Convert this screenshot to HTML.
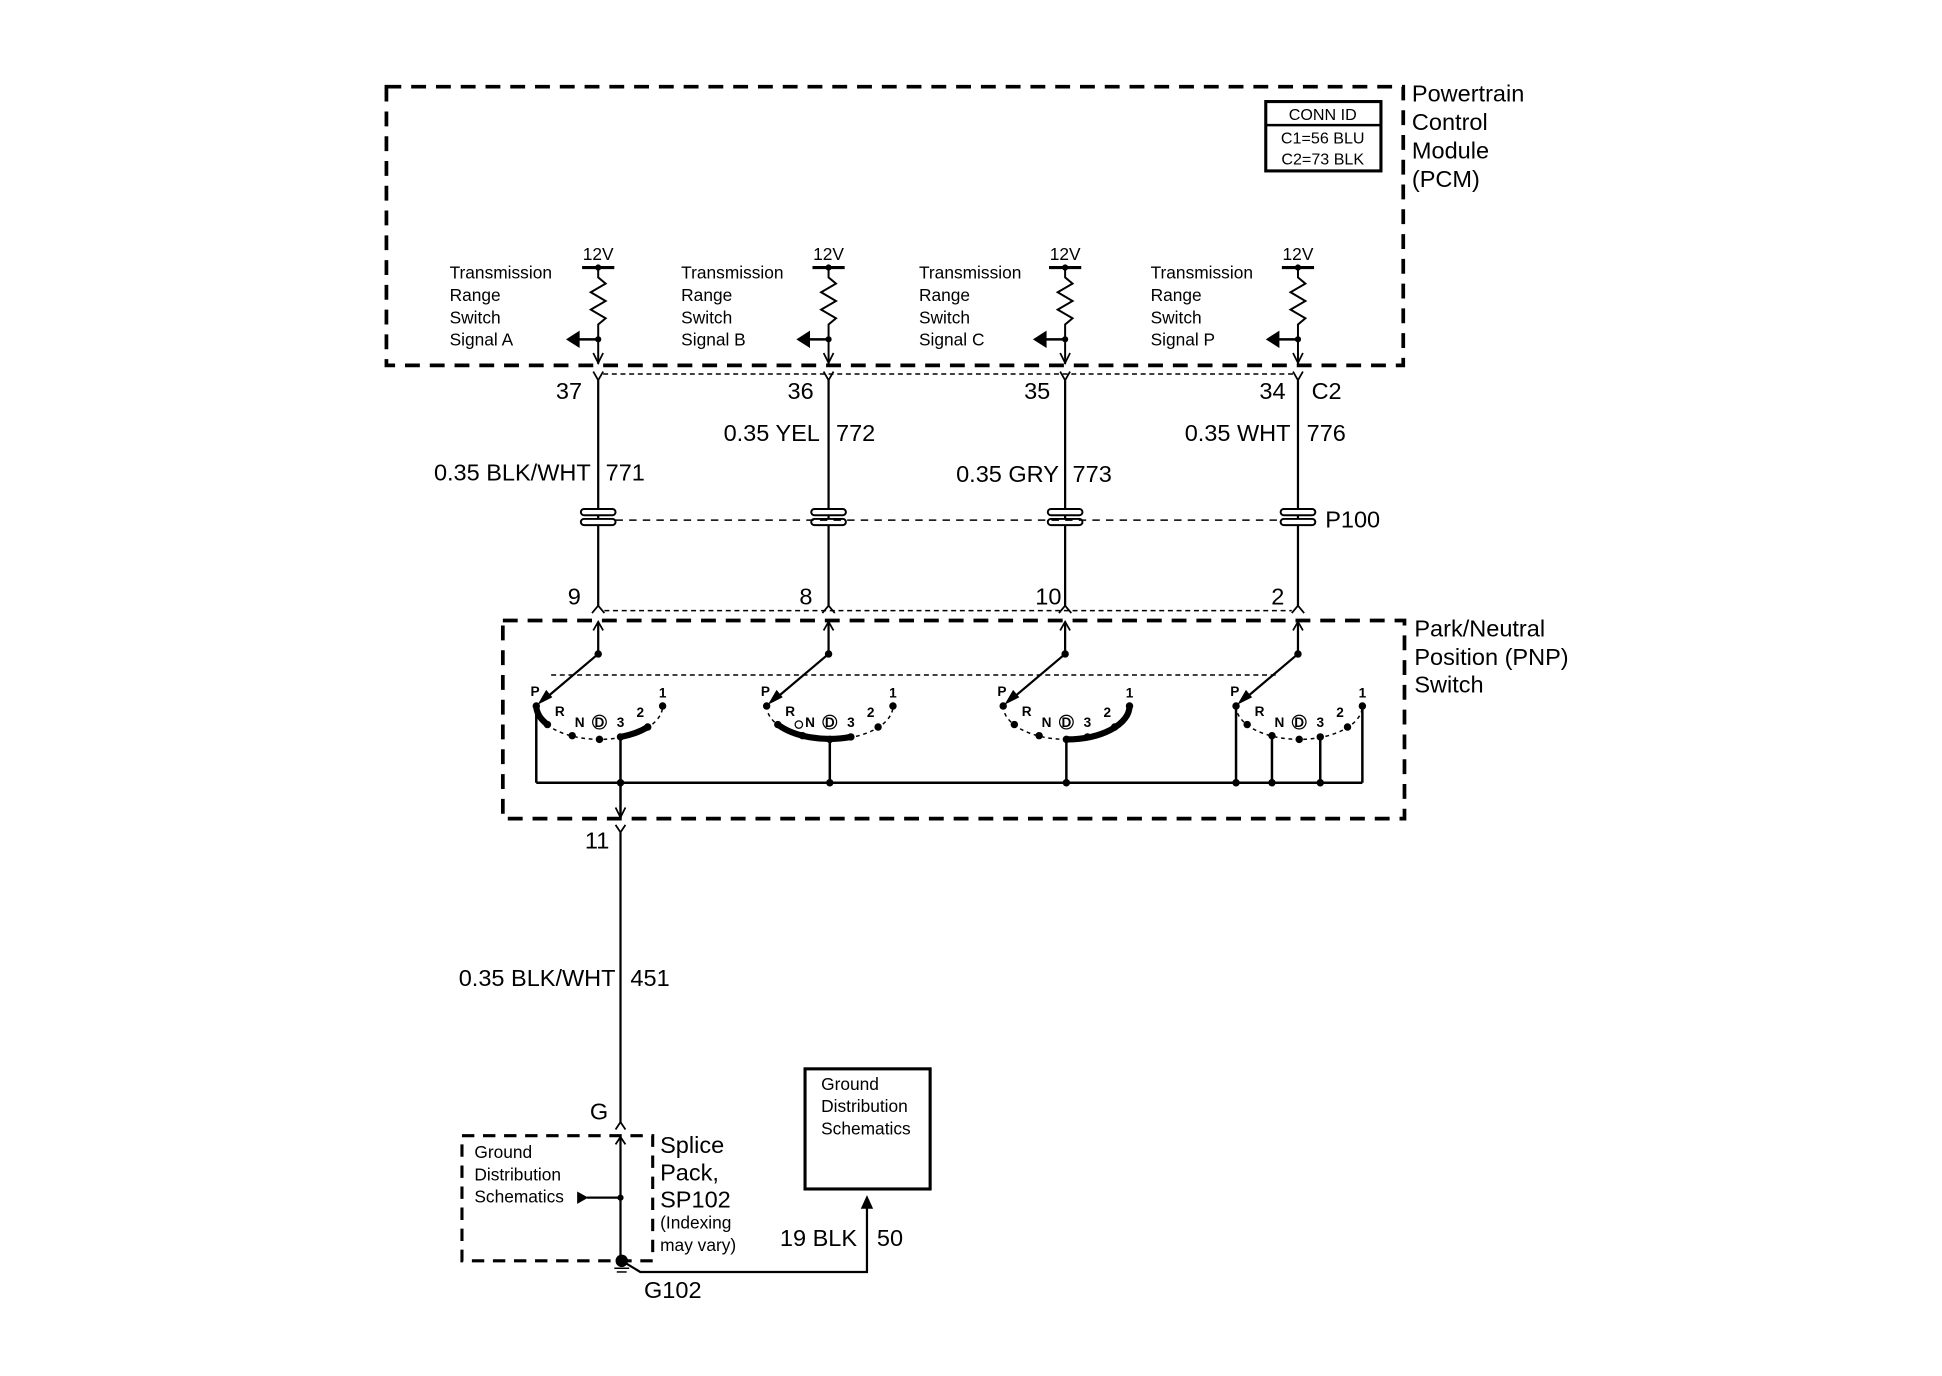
<!DOCTYPE html>
<html><head><meta charset="utf-8"><style>
html,body{margin:0;padding:0;background:#fff;}
svg{display:block;}
text{font-family:"Liberation Sans",sans-serif;fill:#000;}
.s{font-size:14px;}
.m{font-size:19px;}
.t{font-size:11px;font-weight:bold;}
</style></head><body>
<svg width="1942" height="1376" viewBox="0 0 1568 1111" xmlns="http://www.w3.org/2000/svg">
<defs>
<g id="res">
  <text x="483" y="210" class="s" text-anchor="middle">12V</text>
  <line x1="470" y1="216" x2="496" y2="216" stroke="#000" stroke-width="2.5"/>
  <circle cx="483" cy="216" r="2.5"/>
  <polyline points="483,216 483,224 489,229 477,236 489,243 477,250 489,257 483,262 483,294" fill="none" stroke="#000" stroke-width="1.6"/>
  <polyline points="479,285 483,293 487,285" fill="none" stroke="#000" stroke-width="1.4"/>
  <circle cx="483" cy="274" r="2.5"/>
  <line x1="465" y1="274" x2="483" y2="274" stroke="#000" stroke-width="2"/>
  <polygon points="457,274 468,267 468,281"/>
  <polyline points="479,300 483,307 487,300" fill="none" stroke="#000" stroke-width="1.4"/>
  <line x1="483" y1="307" x2="483" y2="489" stroke="#000" stroke-width="1.8"/>
  <rect x="469" y="411" width="28" height="5" rx="2.5" fill="#fff" stroke="#000" stroke-width="1.6"/>
  <rect x="469" y="419" width="28" height="5" rx="2.5" fill="#fff" stroke="#000" stroke-width="1.6"/>
  <polyline points="478,495 483,489 488,495" fill="none" stroke="#000" stroke-width="1.4"/>
  <line x1="483" y1="502" x2="483" y2="528" stroke="#000" stroke-width="1.8"/>
  <polyline points="479,509 483,502 487,509" fill="none" stroke="#000" stroke-width="1.4"/>
  <circle cx="483" cy="528" r="3"/>
  <line x1="483" y1="528" x2="438" y2="566" stroke="#000" stroke-width="1.8"/>
  <polygon points="434,569 441,557 446,563"/>
  <path d="M433,570 A51,27 0 0 0 535,570" fill="none" stroke="#000" stroke-width="1.2" stroke-dasharray="3,3"/>
  <circle cx="433" cy="570" r="3"/><circle cx="442" cy="585" r="3"/><circle cx="462" cy="594" r="3"/>
  <circle cx="484" cy="597" r="3"/><circle cx="501" cy="595" r="3"/><circle cx="523" cy="587" r="3"/><circle cx="535" cy="570" r="3"/>
  <text x="432" y="562" class="t" text-anchor="middle">P</text>
  <text x="452" y="578" class="t" text-anchor="middle">R</text>
  <text x="468" y="587" class="t" text-anchor="middle">N</text>
  <circle cx="484" cy="583" r="5.5" fill="none" stroke="#000" stroke-width="1"/>
  <text x="484" y="587" class="t" text-anchor="middle">D</text>
  <text x="501" y="587" class="t" text-anchor="middle">3</text>
  <text x="517" y="579" class="t" text-anchor="middle">2</text>
  <text x="535" y="563" class="t" text-anchor="middle">1</text>
</g>
</defs>

<!-- PCM box -->
<rect x="312" y="70" width="821" height="225" fill="none" stroke="#000" stroke-width="3" stroke-dasharray="12,8"/>
<text x="1140" y="82" class="m">Powertrain</text>
<text x="1140" y="105" class="m">Control</text>
<text x="1140" y="128" class="m">Module</text>
<text x="1140" y="151" class="m">(PCM)</text>
<rect x="1022" y="82" width="93" height="56" fill="none" stroke="#000" stroke-width="2.5"/>
<line x1="1022" y1="101" x2="1115" y2="101" stroke="#000" stroke-width="2"/>
<text x="1068" y="97" font-size="13" text-anchor="middle">CONN ID</text>
<text x="1068" y="116" font-size="13" text-anchor="middle">C1=56 BLU</text>
<text x="1068" y="133" font-size="13" text-anchor="middle">C2=73 BLK</text>

<g class="s">
<text x="363" y="225">Transmission</text><text x="363" y="243">Range</text><text x="363" y="261">Switch</text><text x="363" y="279">Signal A</text>
<text x="550" y="225">Transmission</text><text x="550" y="243">Range</text><text x="550" y="261">Switch</text><text x="550" y="279">Signal B</text>
<text x="742" y="225">Transmission</text><text x="742" y="243">Range</text><text x="742" y="261">Switch</text><text x="742" y="279">Signal C</text>
<text x="929" y="225">Transmission</text><text x="929" y="243">Range</text><text x="929" y="261">Switch</text><text x="929" y="279">Signal P</text>
</g>

<use href="#res"/>
<use href="#res" transform="translate(186,0)"/>
<use href="#res" transform="translate(377,0)"/>
<use href="#res" transform="translate(565,0)"/>

<!-- dashed connector lines -->
<line x1="487" y1="302" x2="1044" y2="302" stroke="#000" stroke-width="1.2" stroke-dasharray="4,3"/>
<line x1="497" y1="420" x2="1034" y2="420" stroke="#000" stroke-width="1.2" stroke-dasharray="6,5"/>
<line x1="488" y1="493" x2="1043" y2="493" stroke="#000" stroke-width="1.2" stroke-dasharray="4,3"/>
<line x1="445" y1="545" x2="1030" y2="545" stroke="#000" stroke-width="1.2" stroke-dasharray="4,3"/>

<g class="m">
<text x="470" y="322" text-anchor="end">37</text>
<text x="657" y="322" text-anchor="end">36</text>
<text x="848" y="322" text-anchor="end">35</text>
<text x="1038" y="322" text-anchor="end">34</text>
<text x="1059" y="322">C2</text>
<text x="477" y="388" text-anchor="end">0.35 BLK/WHT</text><text x="489" y="388">771</text>
<text x="662" y="356" text-anchor="end">0.35 YEL</text><text x="675" y="356">772</text>
<text x="855" y="389" text-anchor="end">0.35 GRY</text><text x="866" y="389">773</text>
<text x="1042" y="356" text-anchor="end">0.35 WHT</text><text x="1055" y="356">776</text>
<text x="1070" y="426">P100</text>
<text x="469" y="488" text-anchor="end">9</text>
<text x="656" y="488" text-anchor="end">8</text>
<text x="857" y="488" text-anchor="end">10</text>
<text x="1037" y="488" text-anchor="end">2</text>
</g>

<!-- PNP box -->
<rect x="406" y="501" width="728" height="160" fill="none" stroke="#000" stroke-width="3" stroke-dasharray="12,8"/>
<text x="1142" y="514" class="m">Park/Neutral</text>
<text x="1142" y="537" class="m">Position (PNP)</text>
<text x="1142" y="559" class="m">Switch</text>

<!-- thick arcs -->
<g fill="none" stroke="#000" stroke-width="5">
<path d="M433,570 A51,27 0 0 0 442,585"/>
<path d="M501,595 A51,27 0 0 0 523,587"/>
<path d="M628,585 A51,27 0 0 0 687,595"/>
<path d="M860,597 A51,27 0 0 0 912,570"/>
</g>
<circle cx="645" cy="585" r="3" fill="#fff" stroke="#000" stroke-width="1"/>

<!-- bus and verticals -->
<g stroke="#000" stroke-width="2" fill="none">
<line x1="433" y1="632" x2="1100" y2="632"/>
<line x1="433" y1="570" x2="433" y2="632"/>
<line x1="501" y1="595" x2="501" y2="632"/>
<line x1="670" y1="597" x2="670" y2="632"/>
<line x1="861" y1="597" x2="861" y2="632"/>
<line x1="998" y1="570" x2="998" y2="632"/>
<line x1="1027" y1="594" x2="1027" y2="632"/>
<line x1="1066" y1="595" x2="1066" y2="632"/>
<line x1="1100" y1="570" x2="1100" y2="632"/>
<line x1="501" y1="632" x2="501" y2="660"/>
</g>
<g><circle cx="501" cy="632" r="3"/><circle cx="670" cy="632" r="3"/><circle cx="861" cy="632" r="3"/>
<circle cx="998" cy="632" r="3"/><circle cx="1027" cy="632" r="3"/><circle cx="1066" cy="632" r="3"/></g>
<polyline points="497,652 501,660 505,652" fill="none" stroke="#000" stroke-width="1.4"/>
<polyline points="497,666 501,672 505,666" fill="none" stroke="#000" stroke-width="1.4"/>
<text x="492" y="685" class="m" text-anchor="end">11</text>
<line x1="501" y1="672" x2="501" y2="906" stroke="#000" stroke-width="1.8"/>
<text x="497" y="796" class="m" text-anchor="end">0.35 BLK/WHT</text>
<text x="509" y="796" class="m">451</text>

<!-- splice pack -->
<text x="491" y="904" class="m" text-anchor="end">G</text>
<polyline points="497,912 501,906 505,912" fill="none" stroke="#000" stroke-width="1.4"/>
<rect x="373" y="917" width="154" height="101" fill="none" stroke="#000" stroke-width="2.5" stroke-dasharray="10,7"/>
<polyline points="497,924 501,918 505,924" fill="none" stroke="#000" stroke-width="1.4"/>
<line x1="501" y1="918" x2="501" y2="1018" stroke="#000" stroke-width="1.8"/>
<text x="383" y="935" class="s">Ground</text>
<text x="383" y="953" class="s">Distribution</text>
<text x="383" y="971" class="s">Schematics</text>
<polygon points="475,967 466,962 466,972"/>
<line x1="474" y1="967" x2="501" y2="967" stroke="#000" stroke-width="1.8"/>
<circle cx="501" cy="967" r="2.5"/>
<circle cx="502" cy="1018" r="5"/>
<line x1="496" y1="1024" x2="508" y2="1024" stroke="#000" stroke-width="1.2"/>
<line x1="498" y1="1027" x2="506" y2="1027" stroke="#000" stroke-width="1.2"/>
<polyline points="502,1018 517,1027 700,1027 700,975" fill="none" stroke="#000" stroke-width="1.8"/>
<polygon points="700,965 695,976 705,976"/>
<text x="533" y="931" class="m">Splice</text>
<text x="533" y="953" class="m">Pack,</text>
<text x="533" y="975" class="m">SP102</text>
<text x="533" y="992" class="s">(Indexing</text>
<text x="533" y="1010" class="s">may vary)</text>
<text x="692" y="1006" class="m" text-anchor="end">19 BLK</text>
<text x="708" y="1006" class="m">50</text>
<text x="520" y="1048" class="m">G102</text>

<rect x="650" y="863" width="101" height="97" fill="none" stroke="#000" stroke-width="2.5"/>
<text x="663" y="880" class="s">Ground</text>
<text x="663" y="898" class="s">Distribution</text>
<text x="663" y="916" class="s">Schematics</text>
</svg>
</body></html>
